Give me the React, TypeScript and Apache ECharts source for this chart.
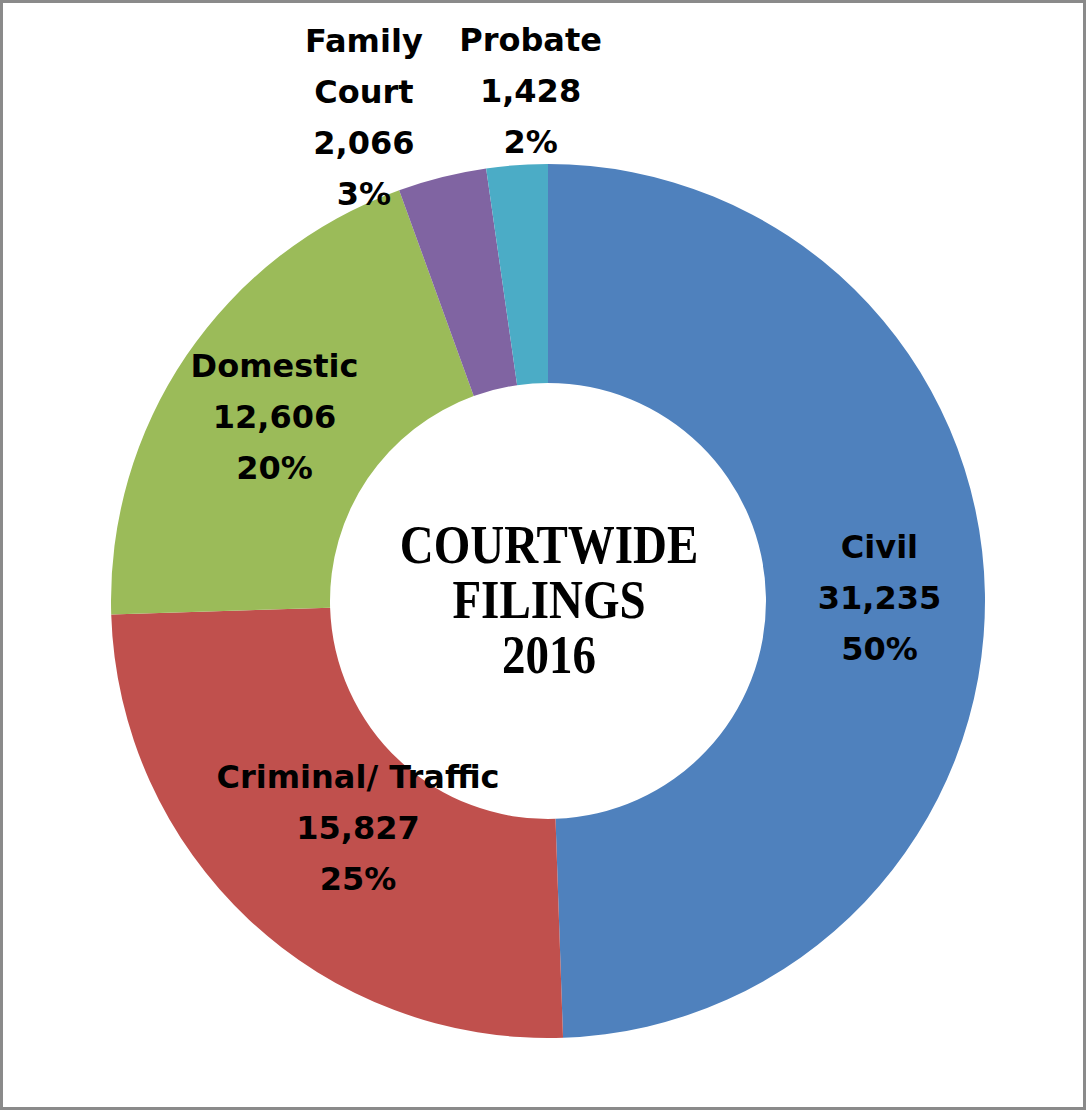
import React, { useEffect, useRef } from "react";
import * as echarts from "echarts";

const categories = ["Civil", "Criminal/ Traffic", "Domestic", "Family Court", "Probate"];
const labelNames = ["Civil", "Criminal/ Traffic", "Domestic", "Family\nCourt", "Probate"];
const values = [31235, 15827, 12606, 2066, 1428];
const percentLabels = ["50%", "25%", "20%", "3%", "2%"];
const colors = ["#4F81BD", "#C0504D", "#9BBB59", "#8064A2", "#4BACC6"];
const centerTitle = "COURTWIDE\nFILINGS\n2016";

// label nudges relative to the default inside label position
const labelShift = [
  [1, 3],
  [36, -14],
  [0, 2],
  [-104, -163],
  [6, -180],
];

export default function App() {
  const ref = useRef<HTMLDivElement>(null);
  useEffect(() => {
    if (!ref.current) return;
    const chart = echarts.init(ref.current, null, { renderer: "svg" });
    chart.setOption({
      animation: false,
      backgroundColor: "#ffffff",
      graphic: [
        {
          type: "rect",
          shape: { x: 1.5, y: 1.5, width: 1083, height: 1107 },
          style: { fill: "none", stroke: "#8a8a8a", lineWidth: 3 },
          silent: true,
        },
        {
          type: "text",
          x: 549,
          y: 600,
          scaleY: 1.15,
          style: {
            text: centerTitle,
            font: 'bold 47px "Liberation Serif", "Times New Roman", serif',
            lineHeight: 48,
            fill: "#000000",
            textAlign: "center",
            textVerticalAlign: "middle",
            align: "center",
            verticalAlign: "middle",
          },
          silent: true,
        },
      ],
      series: [
        {
          type: "pie",
          center: [548, 601],
          radius: [218, 437],
          startAngle: 90,
          clockwise: true,
          avoidLabelOverlap: false,
          emphasis: { disabled: true },
          itemStyle: { borderWidth: 0 },
          label: {
            show: true,
            position: "inside",
            color: "#000000",
            fontFamily: '"DejaVu Sans", sans-serif',
            fontWeight: "bold",
            fontSize: 32,
            lineHeight: 51,
            align: "center",
            formatter: (p: any) =>
              `${labelNames[p.dataIndex]}\n${values[p.dataIndex].toLocaleString("en-US")}\n${percentLabels[p.dataIndex]}`,
          },
          labelLine: { show: false },
          labelLayout: (p: any) => ({
            dx: labelShift[p.dataIndex][0],
            dy: labelShift[p.dataIndex][1],
          }),
          data: categories.map((c, i) => ({
            name: c,
            value: values[i],
            itemStyle: { color: colors[i] },
          })),
        },
      ],
    });
    return () => chart.dispose();
  }, []);
  return (
    <div
      ref={ref}
      style={{ position: "absolute", left: 0, top: 0, width: 1087, height: 1111 }}
    />
  );
}
